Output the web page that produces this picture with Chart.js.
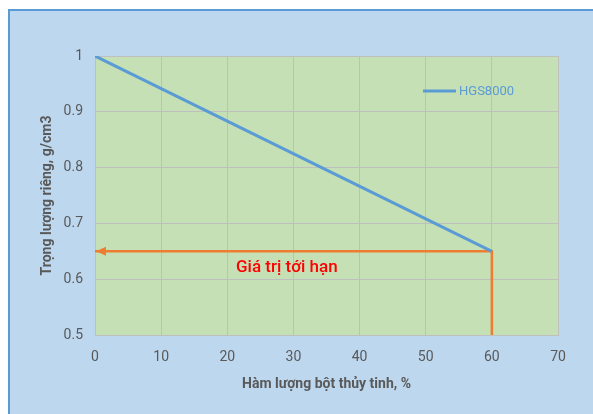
<!DOCTYPE html>
<html>
<head>
<meta charset="utf-8">
<script src="https://cdn.jsdelivr.net/npm/chart.js@4"></script>
<style>
  body { margin: 0; background: #ffffff; }
  #box {
    position: absolute; left: 8px; top: 9px; width: 700px; height: 500px;
    background: #BDD7EE; border: 2px solid #5B9BD5;
  }
  #wrap { position: absolute; left: 0; top: 0; width: 593px; height: 414px; }
</style>
</head>
<body>
<div id="box"></div>
<div id="wrap"><canvas id="myChart" width="593" height="414"></canvas></div>
<script>
// density line (HGS8000)
const glassPct = [0, 60];
const density = [1, 0.65];

// critical value marker: arrow to y axis, drop to x axis
const limitX = [0, 60, 60];
const limitY = [0.65, 0.65, 0.5];

// red annotation
const limitText = 'Giá trị tới hạn';
const limitTextX = 29;
const limitTextY = 0.62;

const xTicks = { min: 0, max: 70, step: 10 };
const yTicks = { min: 0.5, max: 1, step: 0.1 };

const COLORS = {
  blue: '#5B9BD5',
  orange: '#ED7D31',
  plot: '#C5E0B4',
  grid: '#BFBFBF',
  text: '#595959',
  red: '#FF0000'
};

const FONT = 'Roboto, "Liberation Sans", sans-serif';

function toPoints(xs, ys) {
  let pts = [];
  for (let i = 0; i < xs.length; i++) {
    pts.push({ x: xs[i], y: ys[i] });
  }
  return pts;
}

const data = {
  datasets: [
    {
      label: 'HGS8000',
      data: toPoints(glassPct, density),
      borderColor: COLORS.blue,
      borderWidth: 3,
      showLine: true,
      pointRadius: 0
    },
    {
      label: 'limit',
      data: toPoints(limitX, limitY),
      borderColor: COLORS.orange,
      borderWidth: 2.5,
      showLine: true,
      pointRadius: 0
    }
  ]
};

// green plot area, arrowhead, annotation and legend
const extras = {
  id: 'extras',
  beforeDraw(chart) {
    const a = chart.chartArea;
    const ctx = chart.ctx;
    ctx.save();
    ctx.fillStyle = COLORS.plot;
    ctx.fillRect(a.left, a.top, a.right - a.left, a.bottom - a.top);
    ctx.restore();
  },
  afterDatasetsDraw(chart) {
    const ctx = chart.ctx;
    const xs = chart.scales.x;
    const ys = chart.scales.y;

    // arrowhead at first point of limit line
    let tipX = xs.getPixelForValue(limitX[0]) + 1;
    let tipY = ys.getPixelForValue(limitY[0]);
    ctx.save();
    ctx.fillStyle = COLORS.orange;
    ctx.beginPath();
    ctx.moveTo(tipX, tipY);
    ctx.lineTo(tipX + 10, tipY - 4.5);
    ctx.lineTo(tipX + 10, tipY + 4.5);
    ctx.closePath();
    ctx.fill();

    // red text
    ctx.fillStyle = COLORS.red;
    ctx.font = '500 17px ' + FONT;
    ctx.textAlign = 'center';
    ctx.textBaseline = 'middle';
    ctx.fillText(limitText, xs.getPixelForValue(limitTextX), ys.getPixelForValue(limitTextY));

    // legend, inside plot like excel
    const ds = chart.data.datasets[0];
    let lx = 423, ly = 91;
    ctx.strokeStyle = ds.borderColor;
    ctx.lineWidth = 3;
    ctx.beginPath();
    ctx.moveTo(lx, ly);
    ctx.lineTo(lx + 33, ly);
    ctx.stroke();
    ctx.fillStyle = ds.borderColor;
    ctx.font = '13px ' + FONT;
    ctx.textAlign = 'left';
    ctx.fillText(ds.label, lx + 36, ly + 1);
    ctx.restore();
  }
};

const config = {
  type: 'scatter',
  data: data,
  plugins: [extras],
  options: {
    responsive: false,
    animation: false,
    layout: { padding: { left: 0, top: 56, right: 35, bottom: 0 } },
    plugins: {
      legend: { display: false },
      tooltip: { enabled: false }
    },
    scales: {
      x: {
        type: 'linear',
        min: xTicks.min,
        max: xTicks.max,
        afterFit(scale) { scale.height = 79; },
        grid: { color: COLORS.grid, drawTicks: false },
        border: { color: COLORS.grid },
        ticks: {
          stepSize: xTicks.step,
          padding: 14,
          color: COLORS.text,
          font: { family: FONT, size: 14 }
        },
        title: {
          display: true,
          text: 'Hàm lượng bột thủy tinh, %',
          color: COLORS.text,
          font: { family: FONT, size: 14, weight: 'bold' },
          padding: { top: 0, bottom: 21 }
        }
      },
      y: {
        type: 'linear',
        min: yTicks.min,
        max: yTicks.max,
        afterFit(scale) { scale.width = 95; },
        grid: { color: COLORS.grid, drawTicks: false },
        border: { color: COLORS.grid },
        ticks: {
          stepSize: yTicks.step,
          padding: 12,
          color: COLORS.text,
          font: { family: FONT, size: 14 },
          callback: (v) => String(Number(v.toFixed(1)))
        },
        title: {
          display: true,
          text: 'Trọng lượng riêng, g/cm3',
          color: COLORS.text,
          font: { family: FONT, size: 14, weight: 'bold' },
          padding: { top: 39, bottom: 0 }
        }
      }
    }
  }
};

const myChart = new Chart(document.getElementById('myChart'), config);
</script>
</body>
</html>
